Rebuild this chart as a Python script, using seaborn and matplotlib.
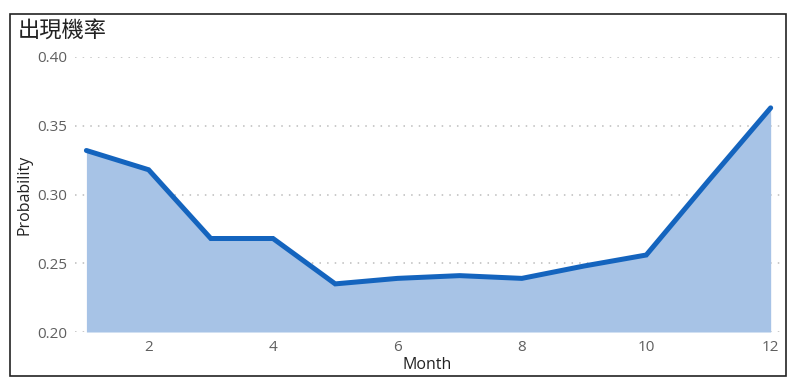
import matplotlib
matplotlib.use("Agg")
import matplotlib.pyplot as plt
import pandas as pd
import seaborn as sns
from matplotlib.patches import Rectangle

# values
months = [1, 2, 3, 4, 5, 6, 7, 8, 9, 10, 11, 12]
probability = [0.332, 0.318, 0.268, 0.268, 0.235, 0.239, 0.241, 0.239, 0.248, 0.256, 0.310, 0.363]
x_ticks = [2, 4, 6, 8, 10, 12]
y_ticks = [0.20, 0.25, 0.30, 0.35, 0.40]

df = pd.DataFrame({"Month": months, "Probability": probability})

sns.set_style("white")
plt.rcParams["font.family"] = ["Open Sans", "Noto Sans CJK TC", "DejaVu Sans"]

line_color = "#1464BE"
fill_color = "#A7C3E6"

fig = plt.figure(figsize=(8, 3.89), dpi=100)
ax = fig.add_axes([0.094, 0.1465, 0.881, 0.707])

ax.fill_between(df["Month"], 0.2, df["Probability"], color=fill_color, linewidth=0, zorder=1)
sns.lineplot(data=df, x="Month", y="Probability", color=line_color, linewidth=3.6,
             solid_capstyle="round", solid_joinstyle="miter", ax=ax, zorder=3)

ax.set_xlim(0.82, 12.15)
ax.set_ylim(0.2, 0.4)
ax.set_xticks(x_ticks)
ax.set_yticks(y_ticks)
ax.set_yticklabels([f"{v:.2f}" for v in y_ticks])
ax.tick_params(axis="both", length=0, labelsize=11, labelcolor="#5f5f5f", pad=6)
ax.yaxis.grid(True, linestyle=(0, (1, 4)), color="#bcbcbc", linewidth=1.1)
ax.set_axisbelow(True)
for s in ax.spines.values():
    s.set_visible(False)

ax.set_xlabel("Month", fontsize=11.5, color="#222222", labelpad=1)
ax.set_ylabel("Probability", fontsize=11.5, color="#222222", labelpad=3)

fig.text(0.022, 0.922, "出現機率", fontsize=16, color="#222222",
         family=["Noto Sans CJK TC", "DejaVu Sans"], va="center", ha="left")

fig.patches.append(Rectangle((0.0125, 0.034), 0.97, 0.93, transform=fig.transFigure,
                             fill=False, edgecolor="#222222", linewidth=1.2))

fig.savefig("out.png", dpi=100)
